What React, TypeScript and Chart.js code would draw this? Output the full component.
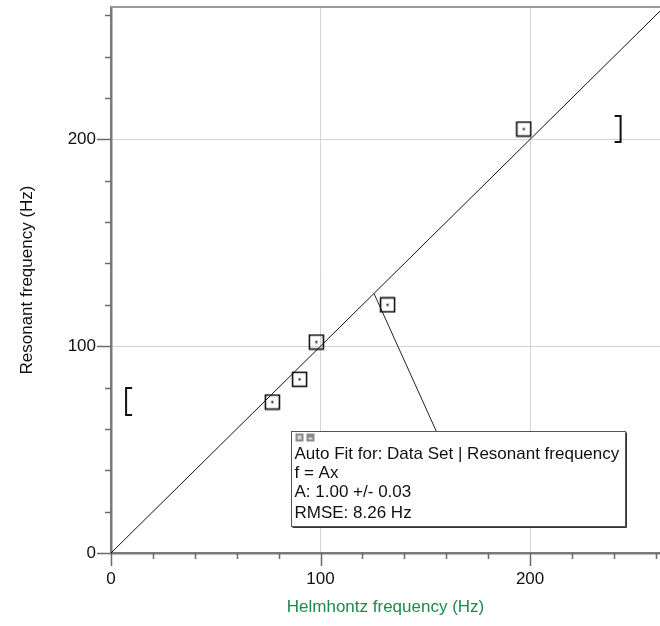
import React, { useEffect, useRef } from "react";
import { Chart, registerables } from "chart.js";

Chart.register(...registerables);

// Data
const helmholtzFreq = [77, 90, 98, 132, 197];
const resonantFreq = [73, 84, 102, 120, 205];

// Fit line f = A x, A = 1.00
const fitX = [0, 270];
const fitY = [0, 270];

// Fit range brackets (data coords)
const bracketLeft = { x: 7.2, yLow: 66.7, yHigh: 79.8 };
const bracketRight = { x: 243.2, yLow: 198.7, yHigh: 211.3 };

// Annotation
const fitLines = [
  "Auto Fit for: Data Set | Resonant frequency",
  "f = Ax",
  "A: 1.00 +/- 0.03",
  "RMSE: 8.26 Hz",
];
const boxAnchor = { x: 85.8, y: 58.9 };
const connectorFrom = { x: 125.5, y: 125.5 };
const connectorToX = 155.3;

const xTickLabels = ["0", "100", "200"];
const yTickLabels = ["0", "100", "200"];

const X_MAX = 262;
const Y_MAX = 264;
const FONT = "'Liberation Sans', Arial, sans-serif";

function makeMarker(): HTMLCanvasElement {
  const c = document.createElement("canvas");
  c.width = 17;
  c.height = 17;
  const g = c.getContext("2d")!;
  g.strokeStyle = "#000";
  g.lineWidth = 1.5;
  g.strokeRect(1.5, 1.5, 14, 14);
  g.fillStyle = "#000";
  g.fillRect(7.5, 7.5, 2, 2);
  return c;
}

const overlayPlugin = {
  id: "overlay",
  afterDraw(chart: any) {
    const { ctx, chartArea } = chart;
    const xs = chart.scales.x;
    const ys = chart.scales.y;
    ctx.save();
    // top border
    ctx.strokeStyle = "#9a9a9a";
    ctx.lineWidth = 2;
    ctx.beginPath();
    ctx.moveTo(chartArea.left, chartArea.top);
    ctx.lineTo(chartArea.right, chartArea.top);
    ctx.stroke();

    // tick marks
    ctx.strokeStyle = "#6a6a6a";
    ctx.lineWidth = 1.5;
    const ax = xs.getPixelForValue(0);
    const ay = ys.getPixelForValue(0);
    for (let v = 0; v <= X_MAX; v += 20) {
      const px = Math.round(xs.getPixelForValue(v)) + 0.5;
      const len = v % 100 === 0 ? 13 : 6;
      ctx.beginPath();
      ctx.moveTo(px, ay);
      ctx.lineTo(px, ay + len);
      ctx.stroke();
    }
    for (let v = 0; v <= Y_MAX; v += 20) {
      const py = Math.round(ys.getPixelForValue(v)) + 0.5;
      const len = v % 100 === 0 ? 14 : 6;
      ctx.beginPath();
      ctx.moveTo(ax, py);
      ctx.lineTo(ax - len, py);
      ctx.stroke();
    }

    // brackets
    ctx.strokeStyle = "#111";
    ctx.lineWidth = 2;
    const drawBracket = (b: any, dir: number) => {
      const bx = xs.getPixelForValue(b.x);
      const y1 = ys.getPixelForValue(b.yHigh);
      const y2 = ys.getPixelForValue(b.yLow);
      ctx.beginPath();
      ctx.moveTo(bx + dir * 6, y1);
      ctx.lineTo(bx, y1);
      ctx.lineTo(bx, y2);
      ctx.lineTo(bx + dir * 6, y2);
      ctx.stroke();
    };
    drawBracket(bracketLeft, 1);
    drawBracket(bracketRight, -1);

    // annotation box
    const bx = Math.round(xs.getPixelForValue(boxAnchor.x)) + 0.5;
    const by = Math.round(ys.getPixelForValue(boxAnchor.y)) + 0.5;
    const bw = 334;
    const bh = 95;

    // connector
    ctx.strokeStyle = "#222";
    ctx.lineWidth = 1;
    ctx.beginPath();
    ctx.moveTo(xs.getPixelForValue(connectorFrom.x), ys.getPixelForValue(connectorFrom.y));
    ctx.lineTo(xs.getPixelForValue(connectorToX), by);
    ctx.stroke();

    ctx.fillStyle = "#ffffff";
    ctx.fillRect(bx, by, bw, bh);
    ctx.strokeStyle = "#555";
    ctx.lineWidth = 1;
    ctx.strokeRect(bx, by, bw, bh);
    ctx.strokeStyle = "#333";
    ctx.lineWidth = 1;
    ctx.beginPath();
    ctx.moveTo(bx + bw + 1, by + 1);
    ctx.lineTo(bx + bw + 1, by + bh + 1);
    ctx.lineTo(bx + 1, by + bh + 1);
    ctx.stroke();

    // small icons
    ctx.fillStyle = "#8a8a8a";
    ctx.fillRect(bx + 4, by + 2, 8, 8);
    ctx.fillRect(bx + 15, by + 2, 8, 8);
    ctx.fillStyle = "#d8d8d8";
    ctx.fillRect(bx + 6, by + 4, 4, 4);
    ctx.fillRect(bx + 17, by + 6, 4, 2);

    ctx.fillStyle = "#111";
    ctx.font = "17px " + FONT;
    ctx.textBaseline = "middle";
    ctx.textAlign = "left";
    const lineY = [23, 42, 61, 82];
    fitLines.forEach((t, i) => ctx.fillText(t, bx + 3, by + lineY[i]));
    ctx.restore();
  },
};

export default function App() {
  const ref = useRef<HTMLCanvasElement | null>(null);
  useEffect(() => {
    if (!ref.current) return;
    const points = helmholtzFreq.map((x, i) => ({ x, y: resonantFreq[i] }));
    const fit = fitX.map((x, i) => ({ x, y: fitY[i] }));
    const marker = makeMarker();
    const chart = new Chart(ref.current, {
      type: "scatter",
      data: {
        datasets: [
          {
            type: "line",
            data: fit,
            borderColor: "#111",
            borderWidth: 1,
            pointRadius: 0,
            hoverRadius: 0,
            showLine: true,
          } as any,
          {
            data: points,
            pointStyle: marker,
            pointRadius: 1,
            hoverRadius: 0,
            borderWidth: 0,
          } as any,
        ],
      },
      options: {
        animation: false,
        responsive: false,
        events: [],
        layout: { autoPadding: false, padding: { top: 7, right: 0, bottom: 8, left: 0 } },
        plugins: { legend: { display: false }, tooltip: { enabled: false } },
        scales: {
          x: {
            type: "linear",
            min: 0,
            max: X_MAX,
            afterFit: (s: any) => {
              s.height = 65;
            },
            ticks: {
              stepSize: 20,
              includeBounds: false,
              autoSkip: false,
              maxRotation: 0,
              padding: 0,
              color: "#111",
              font: { size: 17, family: FONT },
              callback: (v: any) =>
                v % 100 === 0 ? xTickLabels[v / 100] ?? "" : "",
            },
            grid: {
              drawTicks: true,
              tickLength: 16,
              tickColor: "rgba(0,0,0,0)",
              color: (c: any) =>
                c.tick && c.tick.value > 0 && c.tick.value % 100 === 0 ? "#d4d4d4" : "rgba(0,0,0,0)",
            },
            border: { display: true, color: "#7a7a7a", width: 2.5 },
            title: {
              display: true,
              text: "Helmhontz frequency (Hz)",
              color: "#1b8a4c",
              font: { size: 17, family: FONT },
              padding: { top: 4, bottom: 0 },
            },
          },
          y: {
            type: "linear",
            min: 0,
            max: Y_MAX,
            afterFit: (s: any) => {
              s.width = 111;
            },
            ticks: {
              stepSize: 20,
              includeBounds: false,
              autoSkip: false,
              padding: 0,
              color: "#111",
              font: { size: 17, family: FONT, lineHeight: 0.8 },
              callback: (v: any) =>
                v % 100 === 0 ? yTickLabels[v / 100] ?? "" : "",
            },
            grid: {
              drawTicks: true,
              tickLength: 15,
              tickColor: "rgba(0,0,0,0)",
              color: (c: any) =>
                c.tick && c.tick.value > 0 && c.tick.value % 100 === 0 ? "#d4d4d4" : "rgba(0,0,0,0)",
            },
            border: { display: true, color: "#7a7a7a", width: 2.5 },
            title: {
              display: true,
              text: "Resonant frequency (Hz)",
              color: "#111",
              font: { size: 17, family: FONT },
              padding: { top: 17, bottom: 0 },
            },
          },
        },
      },
      plugins: [overlayPlugin],
    });
    return () => chart.destroy();
  }, []);
  return (
    <div style={{ position: "absolute", left: 0, top: 0, width: 660, height: 626, background: "#fff" }}>
      <canvas ref={ref} width={660} height={626} />
    </div>
  );
}
